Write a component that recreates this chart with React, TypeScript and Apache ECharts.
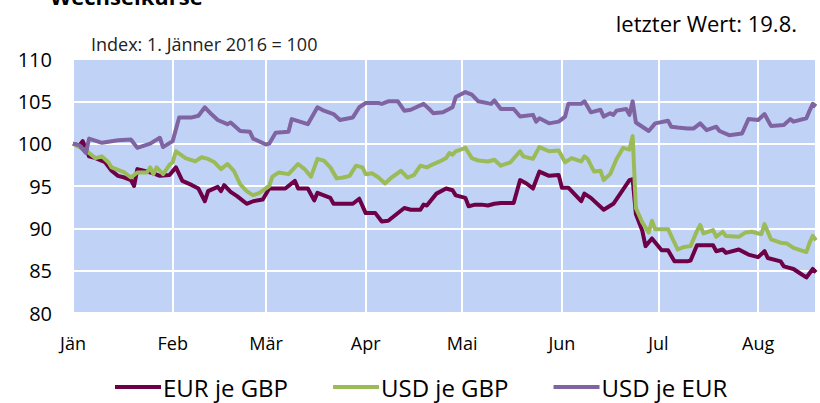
import React, { useEffect, useRef } from "react";
import * as echarts from "echarts";

const monthLabels = ["Jän", "Feb", "Mär", "Apr", "Mai", "Jun", "Jul", "Aug", "Sep", "Okt", "Nov", "Dez"];
const seriesNames = ["EUR je GBP", "USD je GBP", "USD je EUR"];

const eurGbpDates = [
  "2016-01-01", "2016-01-03", "2016-01-04", "2016-01-06", "2016-01-08", "2016-01-11", "2016-01-13", "2016-01-15",
  "2016-01-17", "2016-01-19", "2016-01-20", "2016-01-21", "2016-01-23", "2016-01-26", "2016-01-28", "2016-01-31",
  "2016-02-02", "2016-02-04", "2016-02-07", "2016-02-09", "2016-02-11", "2016-02-12", "2016-02-15", "2016-02-16",
  "2016-02-17", "2016-02-19", "2016-02-21", "2016-02-24", "2016-02-26", "2016-02-29", "2016-03-02", "2016-03-07",
  "2016-03-10", "2016-03-11", "2016-03-14", "2016-03-16", "2016-03-17", "2016-03-21", "2016-03-22", "2016-03-28",
  "2016-03-30", "2016-04-01", "2016-04-04", "2016-04-06", "2016-04-08", "2016-04-13", "2016-04-15", "2016-04-18",
  "2016-04-19", "2016-04-20", "2016-04-23", "2016-04-26", "2016-04-28", "2016-04-29", "2016-05-02", "2016-05-03",
  "2016-05-05", "2016-05-07", "2016-05-09", "2016-05-11", "2016-05-13", "2016-05-17", "2016-05-19", "2016-05-21",
  "2016-05-23", "2016-05-25", "2016-05-28", "2016-05-31", "2016-06-01", "2016-06-03", "2016-06-07", "2016-06-08",
  "2016-06-10", "2016-06-14", "2016-06-17", "2016-06-19", "2016-06-22", "2016-06-23", "2016-06-24", "2016-06-26",
  "2016-06-27", "2016-06-29", "2016-07-02", "2016-07-04", "2016-07-06", "2016-07-10", "2016-07-11", "2016-07-13",
  "2016-07-18", "2016-07-19", "2016-07-21", "2016-07-22", "2016-07-26", "2016-07-29", "2016-08-01", "2016-08-03",
  "2016-08-04", "2016-08-08", "2016-08-09", "2016-08-12", "2016-08-14", "2016-08-16", "2016-08-18", "2016-08-19",
];
const eurGbpValues = [
  100.0, 99.8, 100.3, 98.5, 98.3, 97.8, 96.8, 96.2,
  96.0, 95.7, 95.0, 97.0, 96.8, 96.5, 96.2, 96.3,
  97.2, 95.6, 95.1, 94.7, 93.2, 94.4, 94.9, 94.4,
  95.1, 94.3, 93.8, 92.9, 93.2, 93.4, 94.7, 94.7,
  95.6, 94.7, 94.7, 93.3, 94.2, 93.6, 92.9, 92.9,
  93.5, 91.8, 91.8, 90.8, 90.9, 92.4, 92.2, 92.2,
  92.8, 92.7, 94.1, 94.7, 94.5, 93.9, 93.6, 92.6,
  92.8, 92.8, 92.7, 92.9, 93.0, 93.0, 95.7, 95.3,
  94.7, 96.7, 96.2, 96.3, 94.8, 94.8, 93.2, 94.1,
  93.6, 92.2, 92.9, 94.0, 95.7, 95.8, 91.7, 89.7,
  87.9, 88.8, 87.4, 87.4, 86.1, 86.1, 86.2, 88.0,
  88.0, 87.3, 87.5, 87.1, 87.5, 86.9, 86.6, 87.3,
  86.5, 86.1, 85.5, 85.2, 84.7, 84.2, 85.2, 84.8,
];

const usdGbpDates = [
  "2016-01-01", "2016-01-04", "2016-01-06", "2016-01-08", "2016-01-10", "2016-01-12", "2016-01-13", "2016-01-15",
  "2016-01-17", "2016-01-19", "2016-01-21", "2016-01-24", "2016-01-25", "2016-01-26", "2016-01-27", "2016-01-29",
  "2016-01-31", "2016-02-01", "2016-02-02", "2016-02-05", "2016-02-08", "2016-02-10", "2016-02-12", "2016-02-14",
  "2016-02-16", "2016-02-18", "2016-02-20", "2016-02-22", "2016-02-24", "2016-02-26", "2016-02-28", "2016-03-02",
  "2016-03-03", "2016-03-05", "2016-03-08", "2016-03-11", "2016-03-13", "2016-03-15", "2016-03-17", "2016-03-19",
  "2016-03-21", "2016-03-23", "2016-03-25", "2016-03-27", "2016-03-29", "2016-03-31", "2016-04-01", "2016-04-03",
  "2016-04-05", "2016-04-07", "2016-04-09", "2016-04-12", "2016-04-14", "2016-04-16", "2016-04-18", "2016-04-20",
  "2016-04-21", "2016-04-24", "2016-04-26", "2016-04-27", "2016-04-28", "2016-04-29", "2016-05-02", "2016-05-04",
  "2016-05-06", "2016-05-09", "2016-05-11", "2016-05-13", "2016-05-16", "2016-05-19", "2016-05-20", "2016-05-23",
  "2016-05-25", "2016-05-28", "2016-05-31", "2016-06-02", "2016-06-04", "2016-06-07", "2016-06-08", "2016-06-09",
  "2016-06-11", "2016-06-13", "2016-06-14", "2016-06-16", "2016-06-18", "2016-06-20", "2016-06-22", "2016-06-23",
  "2016-06-24", "2016-06-26", "2016-06-28", "2016-06-29", "2016-06-30", "2016-07-04", "2016-07-07", "2016-07-09",
  "2016-07-11", "2016-07-13", "2016-07-14", "2016-07-15", "2016-07-18", "2016-07-19", "2016-07-21", "2016-07-22",
  "2016-07-26", "2016-07-28", "2016-07-30", "2016-08-02", "2016-08-03", "2016-08-05", "2016-08-08", "2016-08-10",
  "2016-08-12", "2016-08-16", "2016-08-17", "2016-08-18", "2016-08-19",
];
const usdGbpValues = [
  100.0, 99.4, 98.9, 98.3, 98.5, 97.8, 97.2, 96.9,
  96.6, 96.0, 96.6, 96.6, 97.2, 96.4, 97.2, 96.4,
  97.5, 97.8, 99.1, 98.3, 97.9, 98.4, 98.2, 97.8,
  97.0, 97.6, 96.8, 95.2, 94.4, 93.9, 94.2, 95.0,
  96.1, 96.6, 96.4, 97.6, 97.0, 96.1, 98.2, 98.0,
  97.2, 95.9, 96.0, 96.2, 97.4, 97.2, 96.4, 96.5,
  96.0, 95.3, 96.0, 96.8, 96.0, 96.3, 97.4, 97.2,
  97.4, 97.9, 98.3, 98.9, 98.7, 99.1, 99.5, 98.3,
  98.0, 97.9, 98.1, 97.4, 97.8, 99.1, 98.5, 98.2,
  99.6, 99.1, 99.2, 97.8, 98.3, 97.9, 98.5, 98.2,
  96.7, 96.8, 95.7, 96.4, 98.2, 99.5, 99.3, 100.9,
  92.4, 90.7, 89.5, 90.9, 89.9, 89.9, 87.5, 87.8,
  87.9, 89.7, 90.4, 89.4, 89.8, 89.0, 89.6, 89.1,
  89.0, 89.5, 89.6, 89.3, 90.5, 88.7, 88.3, 88.2,
  87.7, 87.2, 88.3, 89.1, 88.6,
];

const usdEurDates = [
  "2016-01-01", "2016-01-03", "2016-01-05", "2016-01-06", "2016-01-10", "2016-01-15", "2016-01-19", "2016-01-21",
  "2016-01-25", "2016-01-28", "2016-01-29", "2016-02-01", "2016-02-03", "2016-02-07", "2016-02-09", "2016-02-11",
  "2016-02-13", "2016-02-15", "2016-02-18", "2016-02-19", "2016-02-22", "2016-02-25", "2016-02-26", "2016-03-01",
  "2016-03-02", "2016-03-04", "2016-03-08", "2016-03-09", "2016-03-14", "2016-03-17", "2016-03-19", "2016-03-22",
  "2016-03-24", "2016-03-28", "2016-03-30", "2016-04-01", "2016-04-05", "2016-04-06", "2016-04-08", "2016-04-11",
  "2016-04-13", "2016-04-15", "2016-04-19", "2016-04-21", "2016-04-22", "2016-04-25", "2016-04-28", "2016-04-29",
  "2016-05-02", "2016-05-04", "2016-05-06", "2016-05-10", "2016-05-11", "2016-05-13", "2016-05-17", "2016-05-19",
  "2016-05-23", "2016-05-24", "2016-05-25", "2016-05-28", "2016-05-31", "2016-06-02", "2016-06-03", "2016-06-07",
  "2016-06-08", "2016-06-10", "2016-06-13", "2016-06-14", "2016-06-16", "2016-06-17", "2016-06-18", "2016-06-21",
  "2016-06-22", "2016-06-23", "2016-06-24", "2016-06-28", "2016-06-30", "2016-07-04", "2016-07-05", "2016-07-07",
  "2016-07-10", "2016-07-12", "2016-07-14", "2016-07-16", "2016-07-19", "2016-07-20", "2016-07-23", "2016-07-27",
  "2016-07-29", "2016-08-01", "2016-08-03", "2016-08-05", "2016-08-09", "2016-08-11", "2016-08-12", "2016-08-16",
  "2016-08-17", "2016-08-18", "2016-08-19",
];
const usdEurValues = [
  100.0, 99.8, 98.9, 100.6, 100.1, 100.4, 100.5, 99.5,
  100.0, 100.7, 99.6, 100.3, 103.1, 103.1, 103.3, 104.3,
  103.5, 102.8, 102.3, 102.5, 101.5, 101.4, 100.6, 99.9,
  100.0, 101.3, 101.4, 102.9, 102.3, 104.3, 103.9, 103.5,
  102.8, 103.1, 104.3, 104.8, 104.8, 104.7, 105.0, 105.0,
  103.9, 104.0, 104.7, 104.0, 103.6, 103.7, 104.3, 105.5,
  106.1, 105.8, 105.0, 104.7, 105.1, 104.1, 104.1, 103.2,
  103.4, 102.6, 103.0, 102.4, 102.6, 103.2, 104.7, 104.7,
  105.0, 103.7, 104.0, 103.2, 103.6, 103.4, 103.9, 104.1,
  103.4, 105.0, 102.5, 101.5, 102.4, 102.7, 102.0, 101.9,
  101.8, 101.8, 102.4, 101.6, 102.0, 101.5, 101.0, 101.2,
  102.9, 102.8, 103.5, 102.1, 102.2, 102.9, 102.6, 103.0,
  103.9, 104.7, 104.4,
];

const colors = ["#6D0046", "#9BBB59", "#8064A2"];
const font = '"Open Sans", "Liberation Sans", sans-serif';

const zip = (d: string[], v: number[]) => d.map((x, i) => [x, v[i]]);

export default function App() {
  const ref = useRef<HTMLDivElement>(null);
  useEffect(() => {
    if (!ref.current) return;
    const chart = echarts.init(ref.current, null, { renderer: "svg" });
    const lineSeries = (name: string, data: any[], color: string) => ({
      name,
      type: "line",
      data,
      showSymbol: false,
      symbol: "none",
      lineStyle: { color, width: 4, join: "round" },
      itemStyle: { color },
    });
    chart.setOption({
      animation: false,
      backgroundColor: "#ffffff",
      textStyle: { fontFamily: font },
      grid: {
        left: 73,
        right: 4,
        top: 59,
        bottom: 90,
        show: true,
        backgroundColor: "#C0D3F6",
        borderWidth: 0,
        containLabel: false,
      },
      graphic: [
        {
          type: "text",
          x: 50,
          y: -4,
          style: { text: "Wechselkurse", font: `bold 22px ${font}`, fill: "#000", verticalAlign: "middle" },
        },
        {
          type: "text",
          x: 797,
          y: 23,
          style: { text: "letzter Wert: 19.8.", font: `22px ${font}`, fill: "#000", align: "right", verticalAlign: "middle" },
        },
        {
          type: "text",
          x: 91,
          y: 44,
          style: { text: "Index: 1. Jänner 2016 = 100", font: `18px ${font}`, fill: "#222", verticalAlign: "middle" },
        },
      ],
      legend: {
        data: seriesNames,
        left: 110,
        top: 367,
        icon: "rect",
        itemWidth: 46,
        itemHeight: 4,
        itemGap: 45,
        textStyle: { fontFamily: font, fontSize: 24, color: "#000", padding: [0, 0, 0, -3], lineHeight: 30 },
      },
      xAxis: {
        type: "time",
        min: "2016-01-01",
        max: "2016-08-19",
        splitNumber: 8,
        minInterval: 28 * 86400000,
        axisLine: { show: false },
        axisTick: { show: false },
        axisLabel: {
          margin: 21,
          fontFamily: font,
          fontSize: 18,
          color: "#000",
          hideOverlap: false,
          formatter: (value: number) => monthLabels[new Date(value).getMonth()],
        },
        splitLine: { show: true, lineStyle: { color: "#ffffff", width: 2 } },
      },
      yAxis: {
        type: "value",
        min: 80,
        max: 110,
        interval: 5,
        axisLine: { show: false },
        axisTick: { show: false },
        axisLabel: { margin: 21, fontFamily: font, fontSize: 20, color: "#000" },
        splitLine: { show: true, lineStyle: { color: "#ffffff", width: 2 } },
      },
      series: [
        lineSeries(seriesNames[0], zip(eurGbpDates, eurGbpValues), colors[0]),
        lineSeries(seriesNames[1], zip(usdGbpDates, usdGbpValues), colors[1]),
        lineSeries(seriesNames[2], zip(usdEurDates, usdEurValues), colors[2]),
      ],
    });
    return () => chart.dispose();
  }, []);
  return (
    <div
      ref={ref}
      style={{ position: "fixed", left: 0, top: 0, width: 820, height: 403, background: "#fff" }}
    />
  );
}
